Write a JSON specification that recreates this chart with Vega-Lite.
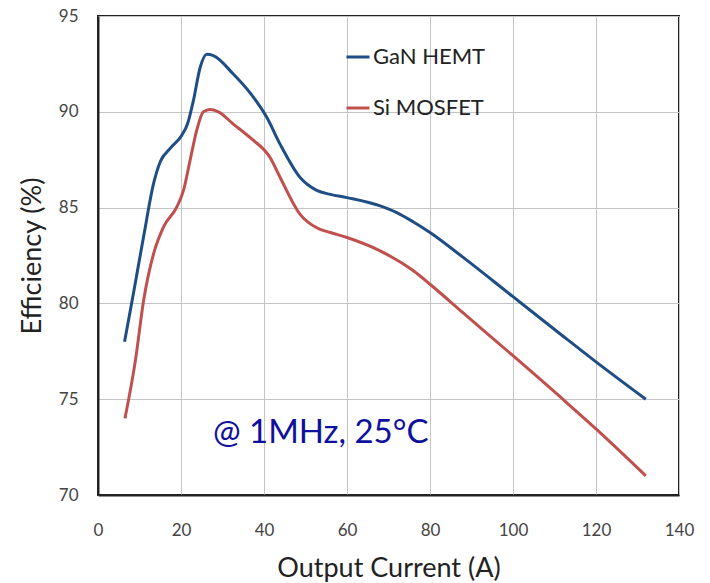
{
  "$schema": "https://vega.github.io/schema/vega-lite/v6.json",
  "width": 581,
  "height": 479,
  "autosize": {"type": "none"},
  "padding": {"left": 98, "top": 16, "right": 31, "bottom": 88},
  "background": "white",
  "config": {
    "font": "Lato",
    "view": {"stroke": "#222222", "strokeWidth": 2}
  },
  "datasets": {
    "curves": [
      {"series": "GaN HEMT", "current": 6.4, "eff": 78.0},
      {"series": "GaN HEMT", "current": 8.6, "eff": 80.6},
      {"series": "GaN HEMT", "current": 11.0, "eff": 83.5},
      {"series": "GaN HEMT", "current": 13.4, "eff": 86.26},
      {"series": "GaN HEMT", "current": 15.0, "eff": 87.39},
      {"series": "GaN HEMT", "current": 17.4, "eff": 88.09},
      {"series": "GaN HEMT", "current": 20.2, "eff": 88.78},
      {"series": "GaN HEMT", "current": 21.6, "eff": 89.39},
      {"series": "GaN HEMT", "current": 23.0, "eff": 90.6},
      {"series": "GaN HEMT", "current": 24.6, "eff": 92.3},
      {"series": "GaN HEMT", "current": 26.2, "eff": 93.0},
      {"series": "GaN HEMT", "current": 27.8, "eff": 92.93},
      {"series": "GaN HEMT", "current": 32.6, "eff": 91.97},
      {"series": "GaN HEMT", "current": 36.6, "eff": 91.0},
      {"series": "GaN HEMT", "current": 40.7, "eff": 89.7},
      {"series": "GaN HEMT", "current": 43.9, "eff": 88.3},
      {"series": "GaN HEMT", "current": 48.7, "eff": 86.57},
      {"series": "GaN HEMT", "current": 52.7, "eff": 85.9},
      {"series": "GaN HEMT", "current": 56.0, "eff": 85.69},
      {"series": "GaN HEMT", "current": 60.0, "eff": 85.52},
      {"series": "GaN HEMT", "current": 68.0, "eff": 85.09},
      {"series": "GaN HEMT", "current": 72.0, "eff": 84.74},
      {"series": "GaN HEMT", "current": 76.0, "eff": 84.25},
      {"series": "GaN HEMT", "current": 80.0, "eff": 83.7},
      {"series": "GaN HEMT", "current": 88.0, "eff": 82.4},
      {"series": "GaN HEMT", "current": 100.0, "eff": 80.35},
      {"series": "GaN HEMT", "current": 112.0, "eff": 78.3},
      {"series": "GaN HEMT", "current": 120.0, "eff": 76.95},
      {"series": "GaN HEMT", "current": 132.0, "eff": 75.0},
      {"series": "Si MOSFET", "current": 6.5, "eff": 74.0},
      {"series": "Si MOSFET", "current": 9.0, "eff": 77.0},
      {"series": "Si MOSFET", "current": 11.0, "eff": 80.17},
      {"series": "Si MOSFET", "current": 13.4, "eff": 82.6},
      {"series": "Si MOSFET", "current": 15.8, "eff": 84.0},
      {"series": "Si MOSFET", "current": 19.0, "eff": 85.04},
      {"series": "Si MOSFET", "current": 20.6, "eff": 85.9},
      {"series": "Si MOSFET", "current": 22.2, "eff": 87.48},
      {"series": "Si MOSFET", "current": 23.8, "eff": 89.04},
      {"series": "Si MOSFET", "current": 25.4, "eff": 90.0},
      {"series": "Si MOSFET", "current": 27.0, "eff": 90.12},
      {"series": "Si MOSFET", "current": 29.0, "eff": 90.0},
      {"series": "Si MOSFET", "current": 32.6, "eff": 89.36},
      {"series": "Si MOSFET", "current": 36.6, "eff": 88.66},
      {"series": "Si MOSFET", "current": 41.5, "eff": 87.6},
      {"series": "Si MOSFET", "current": 43.9, "eff": 86.57},
      {"series": "Si MOSFET", "current": 48.7, "eff": 84.65},
      {"series": "Si MOSFET", "current": 52.7, "eff": 83.95},
      {"series": "Si MOSFET", "current": 56.0, "eff": 83.7},
      {"series": "Si MOSFET", "current": 60.0, "eff": 83.44},
      {"series": "Si MOSFET", "current": 68.0, "eff": 82.74},
      {"series": "Si MOSFET", "current": 76.0, "eff": 81.7},
      {"series": "Si MOSFET", "current": 80.0, "eff": 81.0},
      {"series": "Si MOSFET", "current": 88.0, "eff": 79.5},
      {"series": "Si MOSFET", "current": 100.0, "eff": 77.27},
      {"series": "Si MOSFET", "current": 112.0, "eff": 75.0},
      {"series": "Si MOSFET", "current": 120.0, "eff": 73.45},
      {"series": "Si MOSFET", "current": 132.0, "eff": 71.0}
    ],
    "note": [
      {"current": 27.7, "eff": 72.7, "label": "@ 1MHz, 25°C"}
    ]
  },
  "layer": [
    {
      "data": {"name": "curves"},
      "mark": {"type": "line", "interpolate": "monotone", "strokeWidth": 3},
      "encoding": {
        "x": {
          "field": "current", "type": "quantitative",
          "scale": {"domain": [0, 140], "nice": false, "zero": false},
          "axis": {
            "title": "Output Current (A)",
            "values": [0, 20, 40, 60, 80, 100, 120, 140],
            "labelFlush": false,
            "domainColor": "#222222", "domainWidth": 2,
            "grid": true, "gridColor": "#c4c4c4", "gridWidth": 1,
            "ticks": false,
            "labelFontSize": 17, "labelColor": "#444444", "labelPadding": 27,
            "titleFontSize": 27, "titleFontWeight": "normal", "titleColor": "#222222",
            "titlePadding": 17
          }
        },
        "y": {
          "field": "eff", "type": "quantitative",
          "scale": {"domain": [70, 95], "nice": false, "zero": false},
          "axis": {
            "title": "Efficiency (%)",
            "values": [70, 75, 80, 85, 90, 95],
            "labelFlush": false,
            "domainColor": "#222222", "domainWidth": 2,
            "grid": true, "gridColor": "#c4c4c4", "gridWidth": 1,
            "ticks": false,
            "labelFontSize": 17, "labelColor": "#444444", "labelPadding": 20,
            "titleFontSize": 27, "titleFontWeight": "normal", "titleColor": "#222222",
            "titlePadding": 12
          }
        },
        "color": {
          "field": "series", "type": "nominal",
          "scale": {"domain": ["GaN HEMT", "Si MOSFET"], "range": ["#1F4E85", "#C0504D"]},
          "legend": {
            "title": null,
            "orient": "none",
            "legendX": 247,
            "legendY": 28,
            "padding": 0,
            "symbolType": "stroke",
            "symbolSize": 529,
            "symbolStrokeWidth": 3,
            "labelFontSize": 22,
            "labelColor": "#222222",
            "labelOffset": 2,
            "rowPadding": 27
          }
        }
      }
    },
    {
      "data": {"name": "note"},
      "mark": {"type": "text", "align": "left", "baseline": "alphabetic", "fontSize": 33, "color": "#10109E"},
      "encoding": {
        "x": {"field": "current", "type": "quantitative"},
        "y": {"field": "eff", "type": "quantitative"},
        "text": {"field": "label", "type": "nominal"}
      }
    }
  ]
}
